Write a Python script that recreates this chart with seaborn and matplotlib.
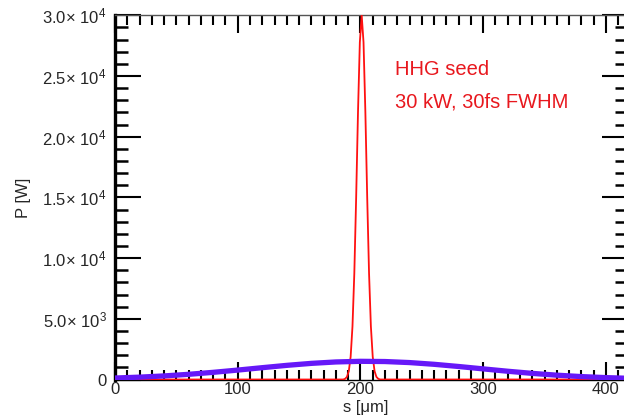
import matplotlib
matplotlib.use("Agg")
import matplotlib.pyplot as plt
import matplotlib.ticker as mticker
import numpy as np
import pandas as pd
import seaborn as sns

# HHG seed pulse: power along the bunch coordinate s
seed_s = [0, 186.0, 187.5, 189.0, 190.5, 192.0, 193.5, 195.0, 196.5, 198.0, 199.5,
          201.0, 202.5, 204.0, 205.5, 207.0, 208.5, 210.0, 211.5, 213.0, 214.5,
          216.0, 418]
seed_p = [0, 0, 58, 216, 687, 1870, 4370, 8740, 15000, 22040, 27780,
          30000, 27780, 22040, 15000, 8740, 4370, 1870, 687, 216, 58,
          0, 0]

# Broad (amplified) pulse
broad_s = [0, 20, 40, 60, 80, 100, 120, 140, 160, 180, 200, 220, 240, 260,
           280, 300, 320, 340, 360, 380, 400, 418]
broad_p = [122, 194, 294, 427, 590, 776, 974, 1165, 1329, 1445, 1498, 1480,
           1394, 1252, 1071, 874, 680, 504, 356, 240, 155, 100]

y_ticks = [0, 5000, 10000, 15000, 20000, 25000, 30000]
y_tick_labels = ["0", "5.0× 10$^3$", "1.0× 10$^4$", "1.5× 10$^4$",
                 "2.0× 10$^4$", "2.5× 10$^4$", "3.0× 10$^4$"]
x_ticks = [0, 100, 200, 300, 400]

sns.set_style("ticks")
plt.rcParams["font.family"] = ["Liberation Sans", "DejaVu Sans"]
plt.rcParams["mathtext.fontset"] = "custom"
plt.rcParams["mathtext.rm"] = "Liberation Sans"
plt.rcParams["mathtext.it"] = "Liberation Sans:italic"

fig = plt.figure(figsize=(6.24, 4.20), dpi=100)
ax = fig.add_axes([115 / 624, 1 - 379.5 / 420, (628 - 115) / 624, (379.5 - 15.3) / 420])

seed_df = pd.DataFrame({"s": seed_s, "P": seed_p})
broad_df = pd.DataFrame({"s": broad_s, "P": broad_p})

sns.lineplot(data=seed_df, x="s", y="P", ax=ax, color="#ff1010", lw=1.3,
             sort=False, estimator=None, zorder=3)
sns.lineplot(data=broad_df, x="s", y="P", ax=ax, color="#6618f8", lw=3.8,
             sort=False, estimator=None, zorder=4, solid_capstyle="butt")

ax.set_xlim(0, 418)
ax.set_ylim(0, 30000)

ax.set_xticks(x_ticks)
ax.set_yticks(y_ticks)
ax.set_yticklabels(y_tick_labels)
ax.xaxis.set_minor_locator(mticker.MultipleLocator(10))
ax.yaxis.set_minor_locator(mticker.MultipleLocator(1000))

ax.tick_params(axis="x", which="major", direction="in", length=13, width=1.5,
               top=True, bottom=True, labelsize=12, pad=2, color="black")
ax.tick_params(axis="x", which="minor", direction="in", length=7, width=1.5,
               top=True, bottom=True, color="black")
ax.tick_params(axis="y", which="major", direction="in", length=19, width=1.5,
               left=True, right=True, labelsize=12, pad=6, color="black")
ax.tick_params(axis="y", which="minor", direction="in", length=9.5, width=1.8,
               left=True, right=True, color="black")

for name, sp in ax.spines.items():
    sp.set_visible(True)
    sp.set_color("black")
    sp.set_linewidth(1.0)
ax.spines["left"].set_linewidth(2.4)
ax.spines["top"].set_color("#555555")

ax.set_xlabel("s [μm]", fontsize=12, labelpad=1)
ax.set_ylabel("P [W]", fontsize=12, labelpad=8)
ax.xaxis.set_label_coords((366 - 115) / (628 - 115), -0.057)

ax.text(228, 25500, "HHG seed", color="#e8181e", fontsize=14.5, va="center", ha="left")
ax.text(228, 22870, "30 kW, 30fs FWHM", color="#e8181e", fontsize=14.5, va="center", ha="left")

fig.savefig("out.png", dpi=100)
